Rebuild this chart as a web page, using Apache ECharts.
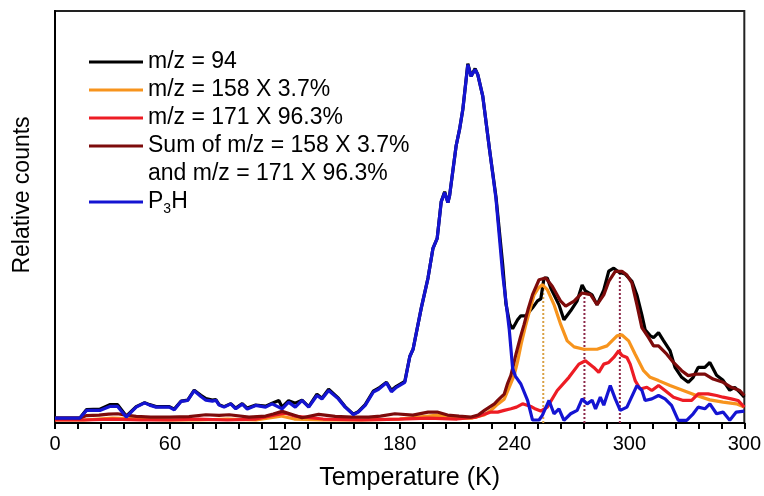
<!DOCTYPE html>
<html>
<head>
<meta charset="utf-8">
<script src="https://cdn.jsdelivr.net/npm/echarts/dist/echarts.min.js"></script>
<style>
  html, body { margin: 0; padding: 0; background: #fff; }
  #chart { width: 764px; height: 496px; }
</style>
</head>
<body>
<div id="chart"></div>
<script>
// x tick labels as printed on the original (last one really reads 300)
const xTickLabels = ['0', '60', '120', '180', '240', '300', '300'];

// m/z = 94
const blackT = [0, 13, 16.5, 23.4, 28.6, 32.7, 37.2, 42.4, 46.8, 49.4, 52.8, 59.7, 62.3, 65.8, 69.3, 72.7, 76.2, 78.8, 82.2, 84, 85.7, 88.3, 91.8, 94.4, 97.8, 100.4, 104.8, 110, 113.4, 116.9, 118.6, 122, 125.5, 129, 132.5, 136.8, 139.4, 142.9, 148, 151.5, 155.8, 158.4, 162, 166.2, 169, 173.1, 175.7, 178.3, 182.7, 185.3, 187, 191.3, 194.8, 197.4, 199.6, 201.7, 203.5, 205.2, 206.1, 209.5, 211.3, 213, 215.6, 217.3, 219.4, 220.8, 223.4, 226.9, 230.3, 233.8, 235.5, 237.5, 239, 241.6, 243.3, 245.9, 249.4, 252, 253.7, 255.4, 257.1, 258.9, 263.2, 265.8, 269.3, 272.7, 275.3, 277, 280.5, 283.1, 286.6, 289.2, 291.8, 294.4, 297.8, 301.3, 303.9, 306.5, 308.2, 310.8, 312.6, 315.2, 317.8, 321.2, 323.8, 327.3, 330.7, 333.3, 335.9, 339.4, 342, 345.5, 348.9, 352.4, 355, 357.6, 360];
const blackV = [5, 5, 13.5, 14, 18.5, 18.5, 7, 16.5, 20.5, 18.5, 16.5, 16.5, 14, 22, 23, 33, 28, 24.5, 23, 23.5, 18.5, 16.5, 19.5, 15, 19.5, 15, 18, 17, 20, 22.7, 16, 22.5, 20, 23, 16.5, 29, 25, 34, 25, 16.5, 9, 11.5, 18.5, 32, 35, 41, 33, 37, 42, 67, 74.3, 116, 146, 176, 186, 223, 233, 222, 229.3, 279.3, 296, 316, 362, 349.3, 357, 351, 329.3, 276, 228, 160, 120, 100, 95, 104, 108, 108, 116, 123, 125, 146, 146, 136, 119, 104, 113, 123, 139, 133, 129, 119, 134, 153, 156, 152, 150, 142.7, 129, 109, 94, 88, 86, 91, 83, 73, 56, 46, 41, 46, 56, 56, 61, 48, 43, 33, 36, 31, 26];

// m/z = 158 X 3.7%
const orangeT = [0, 15, 30, 45, 60, 75, 90, 105, 118, 125, 140, 160, 180, 195, 200, 210, 218, 224, 227.7, 231.2, 234.6, 237.2, 239.8, 241.6, 243.5, 245.9, 248, 250.2, 252.5, 254.5, 257.1, 260.6, 264.1, 267.5, 271.1, 276.2, 283.1, 288.3, 293.5, 296.1, 299.6, 303, 307.4, 310.8, 315.2, 321.2, 328.1, 335, 342, 348.9, 355.8, 360];
const orangeV = [3, 3, 5, 4, 3, 3, 4, 3, 7, 4, 3, 3, 4, 7, 8, 5, 5, 8, 12.7, 19, 24, 36, 48, 62, 80, 99, 114, 129, 136, 139.3, 134.3, 119.3, 99.3, 82.7, 76.7, 74.3, 74.3, 77.7, 87.7, 88.7, 82.7, 69.3, 52.7, 46, 42.7, 37.7, 32.7, 27.7, 23.3, 21, 19.3, 16];

// m/z = 171 X 96.3%
const redT = [0, 15, 30, 45, 60, 75, 90, 105, 115, 120, 125, 140, 160, 180, 195, 210, 220, 227.7, 231.2, 234.6, 238.1, 241, 244.2, 248.5, 251, 253.7, 257.1, 262.3, 268.4, 273.6, 277, 281.4, 284, 286.6, 289.2, 291.8, 294.4, 296.1, 298.7, 300.4, 303, 305.6, 309.1, 311.7, 315.2, 318.6, 323, 328.1, 332.5, 335.9, 341.1, 345.5, 348.9, 353.2, 356.7, 360];
const redV = [3, 3, 4, 3, 3, 4, 3, 4, 8, 10, 7, 4, 3, 4, 5, 4, 6, 11, 11, 12.7, 14.3, 16, 19.3, 16.7, 14, 12, 16, 32.7, 46, 59.3, 62.7, 56, 51, 59.3, 61, 66, 72.7, 68, 66, 59.3, 42.7, 34.3, 36, 32.7, 37.7, 32.7, 26, 22.7, 22.7, 29.3, 29.3, 27.7, 26, 24.3, 22.7, 16];

// sum of the two weighted traces
const sumT = [0, 13, 16.5, 23, 28, 32.7, 37, 42.4, 50, 60, 70, 78.8, 85.7, 91, 101.3, 110, 114, 118.6, 123, 129, 137.7, 146.3, 155, 163.7, 170, 177.5, 186.9, 194.8, 199.6, 205, 211, 217.3, 221, 224.3, 229.5, 231.2, 234.6, 236.4, 238.1, 240.7, 243, 245, 247, 249.4, 252.8, 256.3, 259.7, 264.1, 266.7, 271.1, 275.3, 279.7, 283.1, 286.6, 289.2, 292.6, 296.1, 298.7, 301.3, 303.9, 306.5, 310, 312.6, 315.2, 319.5, 323, 327.3, 330.7, 335, 339.4, 343.7, 348.9, 353.2, 357.6, 360];
const sumV = [5, 5, 7.5, 8, 9, 9.3, 8, 6.7, 6, 6, 6.5, 8.3, 7.7, 8.3, 6, 7, 9, 11.7, 9, 5.3, 8.7, 6.7, 6, 6, 7, 9.3, 8, 11, 11, 8, 7, 6, 8, 12.7, 19.3, 22.7, 29, 40, 48, 69, 86, 99.3, 114, 129.3, 144.3, 146, 137.7, 122.7, 117.7, 122.7, 131, 129.3, 119.3, 129, 142.7, 152.7, 152.7, 149, 141, 119.3, 96, 86, 77.7, 77.7, 69.3, 61, 52.7, 47.7, 49.3, 49.3, 44.3, 41, 36, 32.7, 27.7];

// P3H
const blueT = [0, 13, 16.5, 23.4, 28.6, 32.7, 37.2, 42.4, 46.8, 49.4, 52.8, 59.7, 62.3, 65.8, 69.3, 72.7, 76.2, 78.8, 82.2, 84, 85.7, 88.3, 91.8, 94.4, 97.8, 100.4, 104.8, 110, 113.4, 118.6, 122, 125.5, 129, 132.5, 136.8, 139.4, 142.9, 148, 151.5, 155.8, 158.4, 162, 166.2, 169, 173.1, 175.7, 178.3, 182.7, 185.3, 187, 191.3, 194.8, 197.4, 199.6, 201.7, 203.5, 205.2, 206.1, 209.5, 211.3, 213, 215.6, 217.3, 219.4, 220.8, 223.4, 226.9, 230.3, 233.8, 237.2, 239, 240.5, 243.3, 246.8, 249.4, 252.8, 254.5, 258, 260.6, 263.2, 265.8, 269.3, 272.7, 275.3, 277.9, 280.5, 282.3, 284.8, 286.6, 290, 292.6, 295.2, 298.7, 303.9, 306.5, 308.2, 311.7, 315.2, 318.6, 322, 325.5, 329.9, 333.3, 335.9, 339.4, 342, 345.5, 348.9, 352.4, 355.8, 360];
const blueV = [5, 5, 12.7, 12.7, 16.7, 16.7, 6, 16, 20.3, 18, 16, 16, 13.3, 21.7, 22.7, 32.5, 26.7, 23, 22, 23, 18, 16, 19.3, 14.3, 19, 14, 17.7, 16, 19.3, 14.3, 21, 16, 22.7, 16, 27.7, 24.3, 32.7, 24.3, 16, 8.5, 11, 17.7, 31, 34, 40.5, 31.5, 36, 41, 67, 74.3, 116, 146, 176, 186, 222.7, 232, 222, 229.3, 279.3, 296, 316, 361, 349.3, 356, 351, 329.3, 276, 226, 150, 95, 55, 47, 39.3, 22.7, 3, 3, 7.7, 22.7, 9.3, 14.3, 2.7, 9.3, 12.7, 24.3, 19.3, 23, 14.3, 26, 18, 37.7, 24.3, 12.7, 16, 37.7, 33, 22.7, 24.3, 27.7, 24.3, 17.7, 2.7, 2.7, 9.3, 16, 14.3, 19.3, 9.3, 11, 2.7, 11, 12];

// dotted drop lines under the peaks
const dropT = [255, 276.5, 295];
const dropV = [139, 131, 152.7];
const dropColors = ['#d9a043', '#8c2848', '#8c2848'];

const FONT = 'Liberation Sans, Arial, sans-serif';
const SECOND_LINE = 'and m/z = 171 X 96.3%';

function pairs(t, v) {
  return t.map((x, i) => [x, v[i]]);
}

function curve(name, color, t, v) {
  return {
    name: name,
    type: 'line',
    data: pairs(t, v),
    symbol: 'none',
    color: color,
    lineStyle: { color: color, width: 3.2 },
    z: 3
  };
}

const chart = echarts.init(document.getElementById('chart'), null, { renderer: 'canvas' });

const series = [];
dropT.forEach((t, i) => {
  series.push({
    type: 'line',
    data: [[t, 0], [t, dropV[i]]],
    symbol: 'none',
    silent: true,
    lineStyle: { color: dropColors[i], width: 2, type: 'dotted' },
    z: 2
  });
});
series.push(curve('m/z = 94', '#000000', blackT, blackV));
series.push(curve('m/z = 158 X 3.7%', '#f7941d', orangeT, orangeV));
series.push(curve('m/z = 171 X 96.3%', '#ed1c24', redT, redV));
series.push(curve('Sum of m/z = 158 X 3.7%', '#7d0b0b', sumT, sumV));
// empty series only so that the legend has the second text line
series.push({
  name: SECOND_LINE,
  type: 'line',
  data: [],
  symbol: 'none',
  color: 'rgba(0,0,0,0)',
  lineStyle: { color: 'rgba(0,0,0,0)', width: 3 }
});
series.push(curve('P3H', '#1414d2', blueT, blueV));

chart.setOption({
  animation: false,
  backgroundColor: '#fff',
  grid: {
    left: 55, right: 16, top: 11, bottom: 70,
    show: true,
    borderColor: '#222',
    borderWidth: 2
  },
  legend: {
    orient: 'vertical',
    left: 89,
    top: 48,
    padding: 0,
    icon: 'rect',
    itemWidth: 54,
    itemHeight: 3,
    itemGap: 0,
    selectedMode: false,
    data: ['m/z = 94', 'm/z = 158 X 3.7%', 'm/z = 171 X 96.3%', 'Sum of m/z = 158 X 3.7%', SECOND_LINE, 'P3H'],
    formatter: function (name) {
      return name === 'P3H' ? 'P{sub|3}H' : name;
    },
    textStyle: {
      color: '#000',
      fontFamily: FONT,
      fontSize: 23,
      lineHeight: 28,
      rich: {
        sub: { fontSize: 14, lineHeight: 10, verticalAlign: 'bottom', color: '#000', fontFamily: FONT }
      }
    }
  },
  xAxis: {
    type: 'value',
    min: 0,
    max: 360,
    interval: 60,
    name: 'Temperature (K)',
    nameLocation: 'middle',
    nameGap: 43,
    nameTextStyle: { color: '#000', fontFamily: FONT, fontSize: 25, padding: [0, 0, 0, 20] },
    axisLine: { lineStyle: { color: '#000', width: 2 } },
    axisTick: { length: 6, lineStyle: { color: '#000', width: 2 } },
    minorTick: { show: true, splitNumber: 5, length: 6, lineStyle: { color: '#000', width: 2 } },
    splitLine: { show: false },
    axisLabel: {
      color: '#000',
      fontFamily: FONT,
      fontSize: 20,
      margin: 11,
      formatter: function (v) { return xTickLabels[Math.round(v / 60)]; }
    }
  },
  yAxis: {
    type: 'value',
    min: 0,
    max: 415,
    name: 'Relative counts',
    nameLocation: 'middle',
    nameGap: 21,
    nameTextStyle: { color: '#000', fontFamily: FONT, fontSize: 23, padding: [0, 0, 0, 44] },
    axisLine: { show: true, lineStyle: { color: '#000', width: 2 } },
    axisTick: { show: false },
    axisLabel: { show: false },
    splitLine: { show: false }
  },
  series: series
});
</script>
</body>
</html>
